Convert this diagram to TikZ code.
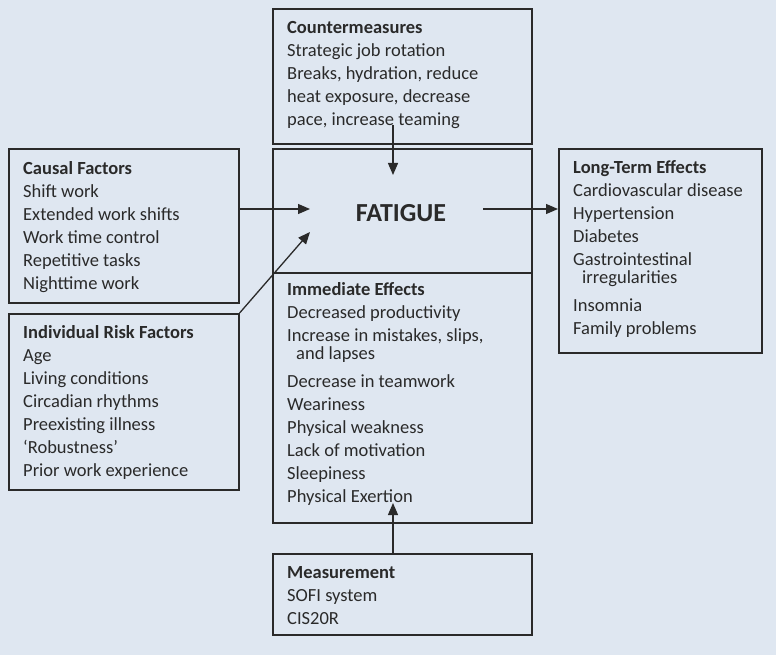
\documentclass[tikz,border=0pt]{standalone}
\usepackage{fontspec}
\setmainfont{Carlito}
\usetikzlibrary{arrows.meta}
\definecolor{bgc}{HTML}{DFE7F1}
\definecolor{ink}{HTML}{2A2A2A}
\newcommand{\tops}{\rule{0pt}{16pt}}
\newcommand{\bodyfont}{\fontsize{18.5}{18}\selectfont\lineskiplimit=-20pt\relax\lineskip=0pt\relax}
\begin{document}
\begin{tikzpicture}[x=1pt,y=-1pt,
  box/.style={draw=ink, line width=1.6pt, rectangle, anchor=north west, inner sep=0pt},
  txt/.style={anchor=north west, inner sep=0pt, align=left, text=ink, font={\bodyfont}},
  arr/.style={draw=ink, line width=1.3pt, -{Triangle[length=12pt,width=10pt]}}]
\fill[bgc] (0,0) rectangle (776,655);
\useasboundingbox (0,0) rectangle (776,655);

% boxes
\node[box, minimum width=259pt, minimum height=135pt] (cm) at (272,8) {};
\node[box, minimum width=259pt, minimum height=374pt] (fat) at (272,148) {};
\node[box, minimum width=230pt, minimum height=154pt] (cf) at (8,148) {};
\node[box, minimum width=230pt, minimum height=176pt] (irf) at (8,313) {};
\node[box, minimum width=203pt, minimum height=204pt] (lte) at (558,148) {};
\node[box, minimum width=259pt, minimum height=81pt] (meas) at (272,553) {};
\coordinate (divl) at (272,273);
\coordinate (divr) at (531,273);
\draw[draw=ink, line width=1.6pt] (divl) -- (divr);

% texts
\node[txt] (cmt) at (287,17) {\tops\textbf{Countermeasures}\\[5pt]
  Strategic job rotation\\[5pt]
  Breaks, hydration, reduce\\[5pt]
  heat exposure, decrease\\[5pt]
  pace, increase teaming};
\node[txt] (cft) at (23,158) {\tops\textbf{Causal Factors}\\[5pt]
  Shift work\\[5pt]
  Extended work shifts\\[5pt]
  Work time control\\[5pt]
  Repetitive tasks\\[5pt]
  Nighttime work};
\node[txt] (irft) at (23,322) {\tops\textbf{Individual Risk Factors}\\[5pt]
  Age\\[5pt]
  Living conditions\\[5pt]
  Circadian rhythms\\[5pt]
  Preexisting illness\\[5pt]
  ‘Robustness’\\[5pt]
  Prior work experience};
\node[anchor=base, inner sep=0pt, text=ink, font={\fontsize{26}{30}\selectfont\bfseries}] (fatt) at (401,222) {FATIGUE};
\node[txt] (iet) at (287,279) {\tops\textbf{Immediate Effects}\\[5pt]
  Decreased productivity\\[5pt]
  Increase in mistakes, slips,\\
  \hspace*{9pt}and lapses\\[10pt]
  Decrease in teamwork\\[5pt]
  Weariness\\[5pt]
  Physical weakness\\[5pt]
  Lack of motivation\\[5pt]
  Sleepiness\\[5pt]
  Physical Exertion};
\node[txt] (ltet) at (573,157) {\tops\textbf{Long-Term Effects}\\[5pt]
  Cardiovascular disease\\[5pt]
  Hypertension\\[5pt]
  Diabetes\\[5pt]
  Gastrointestinal\\
  \hspace*{9pt}irregularities\\[10pt]
  Insomnia\\[5pt]
  Family problems};
\node[txt] (meast) at (287,562) {\tops\textbf{Measurement}\\[5pt]
  SOFI system\\[5pt]
  CIS20R};

% connectors
\coordinate (cmsrc) at (393,125);
\coordinate (cmtip) at (393,175);
\coordinate (cfsrc) at (238,209);
\coordinate (cftip) at (310,209);
\coordinate (irftip) at (310,232);
\coordinate (ltesrc) at (483,209);
\coordinate (ltetip) at (558,209);
\coordinate (meassrc) at (393,553);
\coordinate (meastip) at (393,503);
\draw[arr] (cmsrc) -- (cmtip);
\draw[arr] (cfsrc) -- (cftip);
\draw[arr] (irf.north east) -- (irftip);
\draw[arr] (ltesrc) -- (ltetip);
\draw[arr] (meassrc) -- (meastip);
\end{tikzpicture}
\end{document}
